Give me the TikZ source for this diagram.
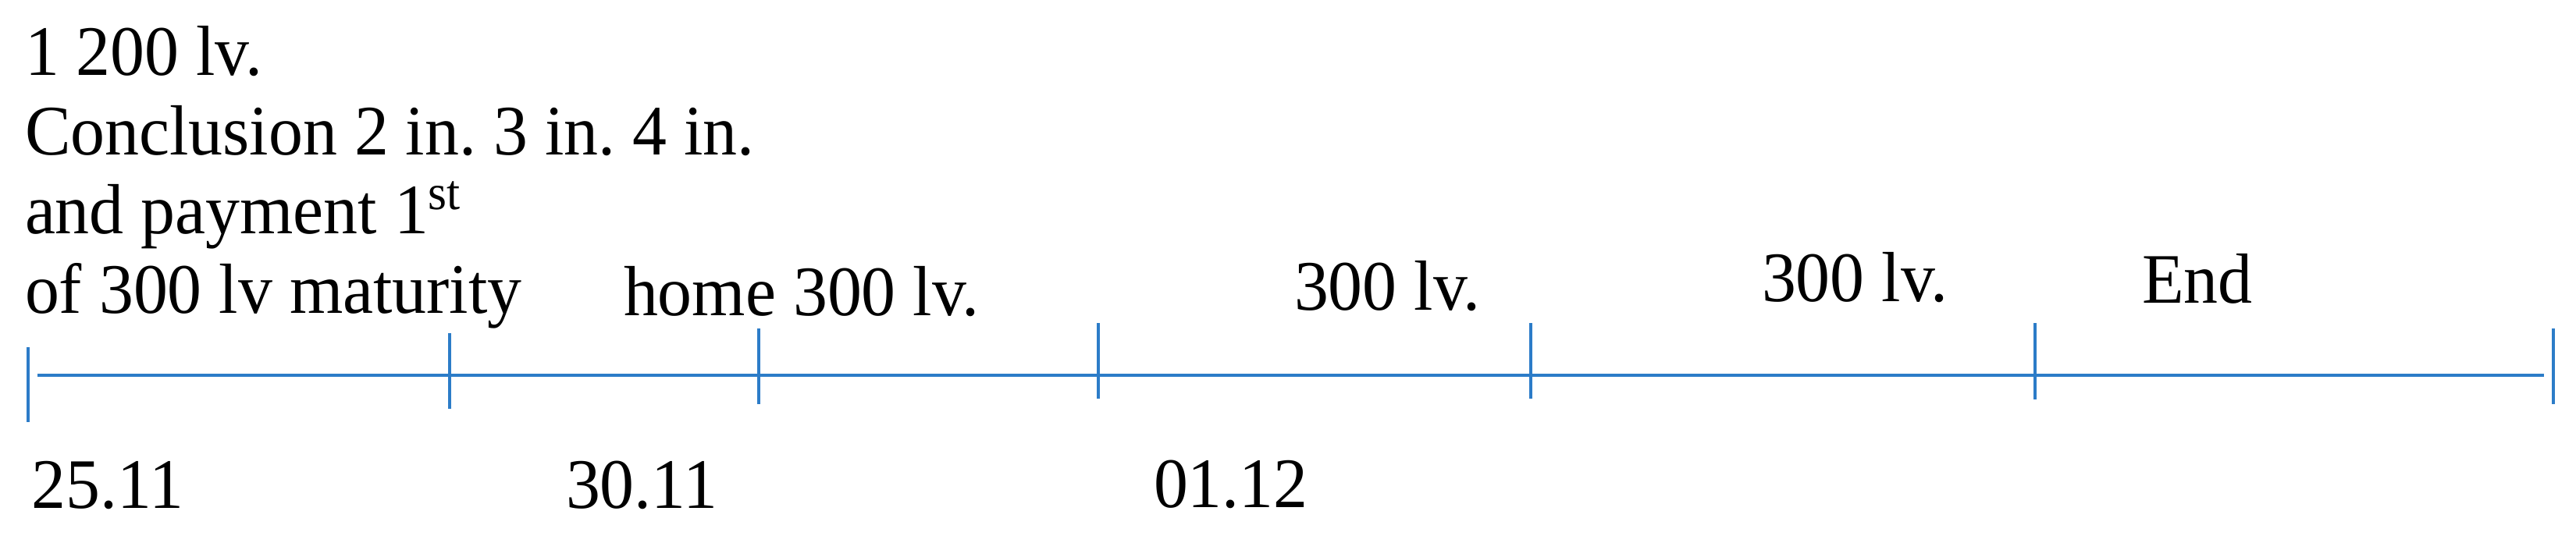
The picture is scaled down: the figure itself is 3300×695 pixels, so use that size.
\documentclass[tikz,border=0pt]{standalone}
\usepackage{fontspec}
\setmainfont{Liberation Serif}[FakeStretch=0.965]
\definecolor{axisblue}{RGB}{44,124,200}
\frenchspacing
\begin{document}
\begin{tikzpicture}[x=0.2pt,y=-0.2pt,
  lbl/.style={inner sep=0pt,anchor=base west,font=\fontsize{18.2pt}{20.3pt}\selectfont,align=left},
  axis/.style={draw=axisblue,line width=0.95pt}]
\useasboundingbox (0,0) rectangle (3300,695);
% axis line
\coordinate (L) at (48,481);
\coordinate (R) at (3259,481);
\draw[axis] (L) -- (R);
% ticks
\foreach \n/\x/\t/\b in {1/36/445/541, 2/576/427/524, 3/972/421/518, 4/1407/414/511, 5/1961/414/511, 6/2607/414/512, 7/3271/421/518}{
  \coordinate (t\n a) at (\x,\t);
  \coordinate (t\n b) at (\x,\b);
  \draw[axis] (t\n a) -- (t\n b);
}
% labels
\node[lbl] (intro) at (31,401) {1 200 lv.\\Conclusion 2 in. 3 in. 4 in.\\and payment 1\textsuperscript{st}\\of 300 lv maturity};
\node[lbl] (home) at (798,404) {home 300 lv.};
\node[lbl] (p2) at (1657,397) {300 lv.};
\node[lbl] (p3) at (2256,386) {300 lv.};
\node[lbl] (end) at (2743,388) {End};
\node[lbl] (d1) at (40,651) {25.11};
\node[lbl] (d2) at (724,651) {30.11};
\node[lbl] (d3) at (1477,650) {01.12};
\end{tikzpicture}
\end{document}
